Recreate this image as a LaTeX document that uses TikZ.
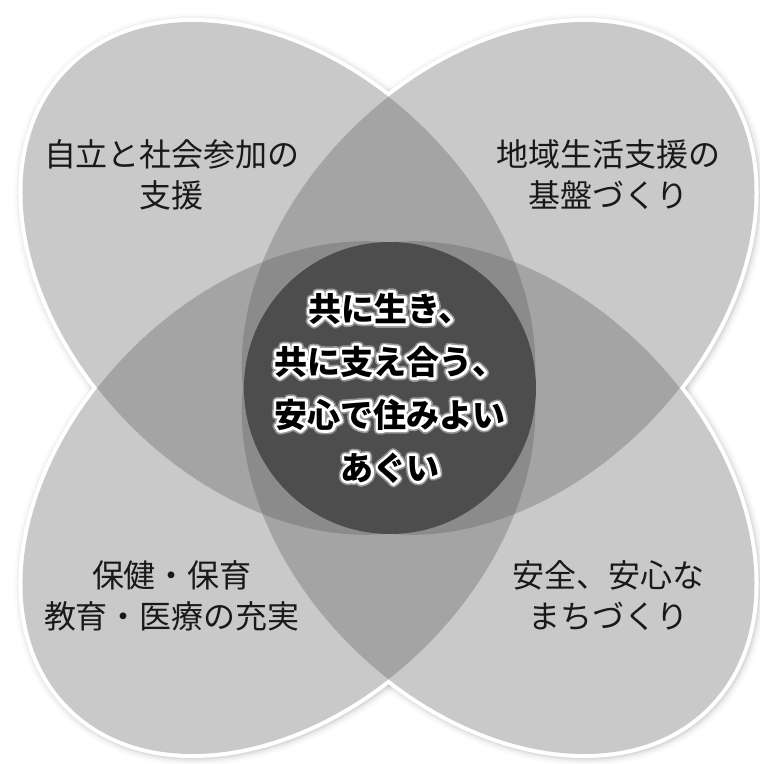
\documentclass[tikz,border=0pt]{standalone}
\usepackage{fontspec}
\newfontfamily\jp{Noto Sans CJK JP}
\newfontfamily\corewhite{Noto Sans CJK JP}[FakeBold=17]
\newfontfamily\coregray{Noto Sans CJK JP}[FakeBold=27]
\definecolor{petalfill}{RGB}{89,89,89}
\definecolor{corefill}{RGB}{77,77,77}
\definecolor{haloring}{RGB}{150,150,150}
\definecolor{ink}{RGB}{25,25,25}
\newcommand\halotext[1]{%
  \leavevmode
  \rlap{\coregray\bfseries\textcolor{haloring}{#1}}%
  \rlap{\corewhite\bfseries\textcolor{white}{#1}}%
  {\jp\bfseries #1}}
\begin{document}
\begin{tikzpicture}[x=1pt,y=-1pt,
  petaltext/.style={font=\jp\fontsize{32}{41}\selectfont, text=ink, align=center, inner sep=0pt},
  coretext/.style={font=\jp\bfseries\fontsize{33}{53}\selectfont, text=black, align=center, inner sep=0pt, line join=round}]
\useasboundingbox (0,0) rectangle (760,764);
\fill[white] (0,0) rectangle (760,764);
\def\pa{296.3}\def\pb{209}
\def\petallist{278.9/278.4/-45, 498.1/278.4/45, 278.9/497.6/45, 498.1/497.6/-45}
% soft shadow
\foreach \cx/\cy/\rr in \petallist {
  \foreach \w/\o in {20/0.02, 15/0.03, 11/0.04, 8/0.05}
    \draw[black, opacity=\o, line width=\w, shift={(\cx+1.5,\cy+1.5)}, rotate=\rr] (0,0) ellipse[x radius=\pa, y radius=\pb];
}
% white border
\foreach \cx/\cy/\rr in \petallist
  \draw[white, line width=8, shift={(\cx,\cy)}, rotate=\rr] (0,0) ellipse[x radius=\pa, y radius=\pb];
% white base
\foreach \cx/\cy/\rr in \petallist
  \fill[white, shift={(\cx,\cy)}, rotate=\rr] (0,0) ellipse[x radius=\pa, y radius=\pb];
% translucent grey petals
\foreach \cx/\cy/\rr in \petallist
  \fill[petalfill, fill opacity=0.32, shift={(\cx,\cy)}, rotate=\rr] (0,0) ellipse[x radius=\pa, y radius=\pb];
% central disc
\fill[corefill] (390,388) circle[radius=146];
% texts
\node[petaltext] (tl) at (172,175) {自立と社会参加の\\支援};
\node[petaltext] (tr) at (608,175) {地域生活支援の\\基盤づくり};
\node[petaltext] (bl) at (172,596) {保健・保育\\教育・医療の充実};
\node[petaltext] (br) at (608,596) {安全、安心な\\まちづくり};
\node[coretext] (core) at (390,388) {\halotext{共に生き、}\\\halotext{共に支え合う、}\\\halotext{安心で住みよい}\\\halotext{あぐい}};
\end{tikzpicture}
\end{document}
